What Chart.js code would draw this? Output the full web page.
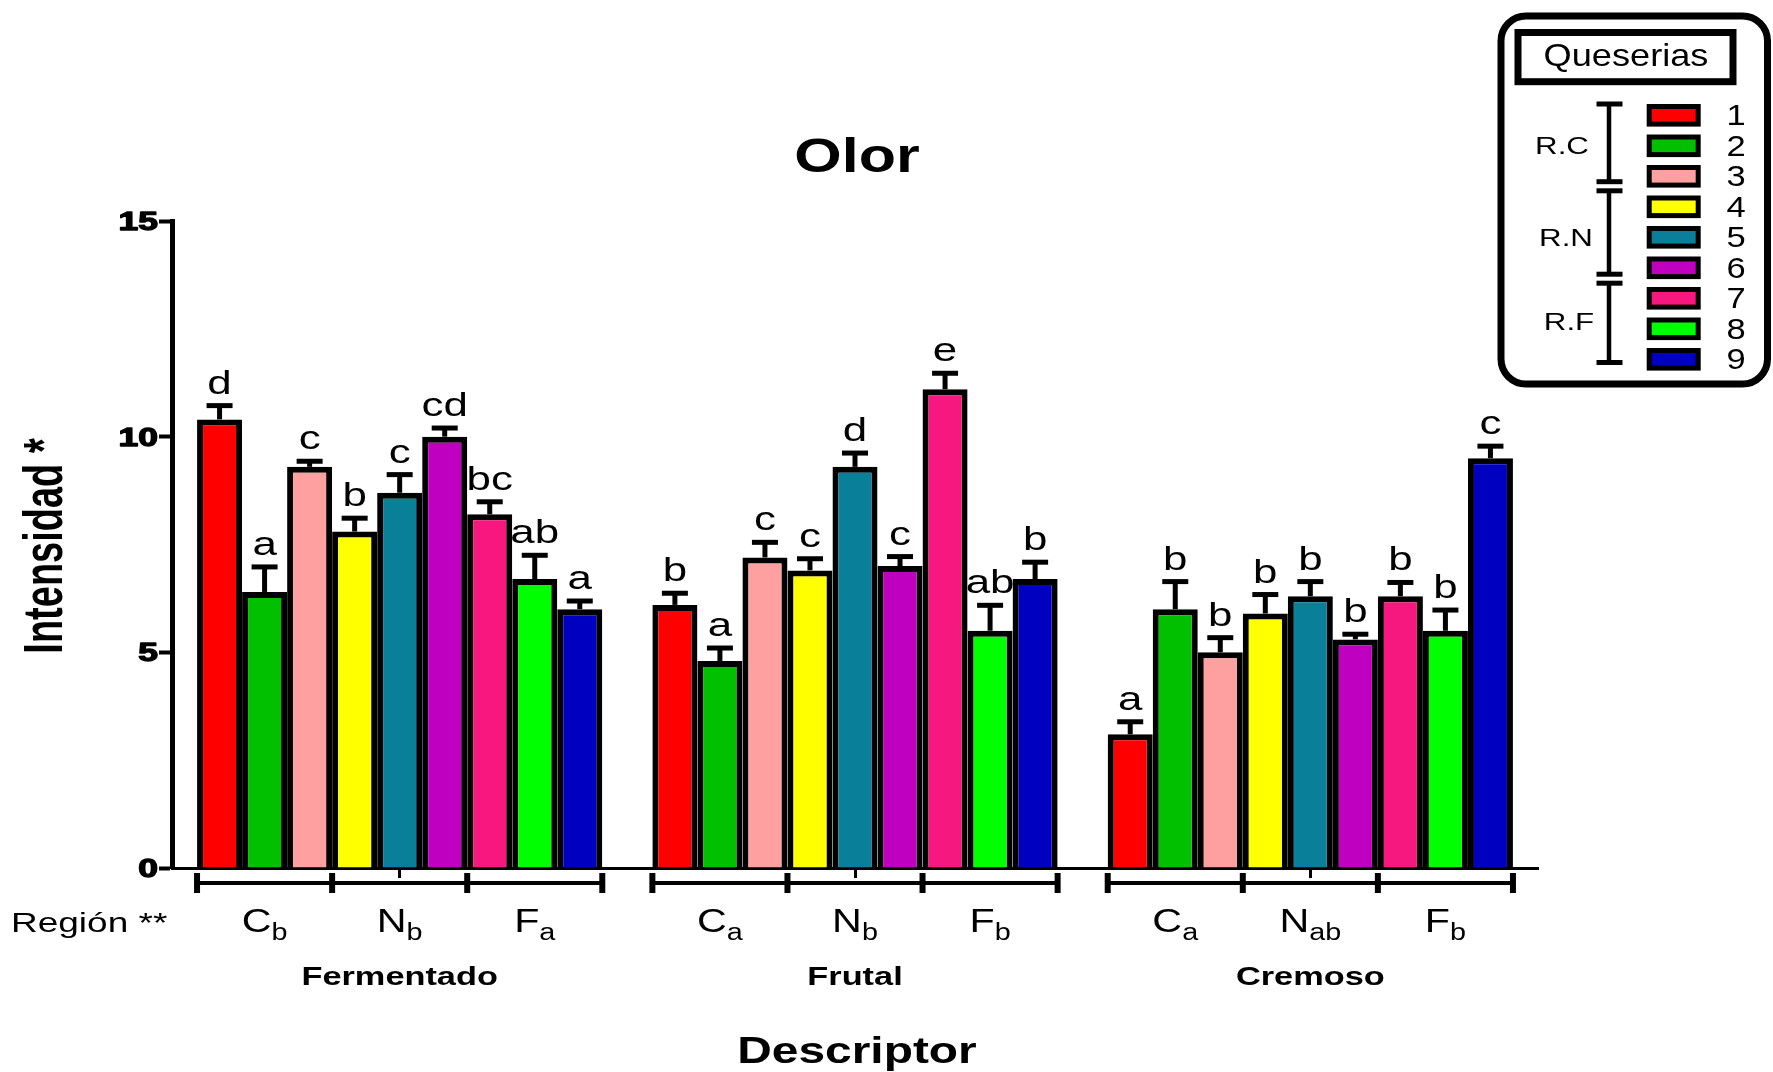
<!DOCTYPE html>
<html>
<head>
<meta charset="utf-8">
<title>Olor</title>
<script src="https://cdn.jsdelivr.net/npm/chart.js@4.4.1/dist/chart.umd.min.js"></script>
<style>
  html, body { margin: 0; padding: 0; background: #fff; }
  #wrap { width: 1773px; height: 1072px; position: relative; }
</style>
</head>
<body>
<div id="wrap"><canvas id="c"></canvas></div>
<script>
// Descriptores de olor y queserías
const descriptores = ['Fermentado', 'Frutal', 'Cremoso'];
const queserias = ['1', '2', '3', '4', '5', '6', '7', '8', '9'];

// Intensidad media por quesería (1..9) para cada descriptor
const fermentado = [10.4, 6.4, 9.3, 7.8, 8.7, 10.0, 8.2, 6.7, 6.0];
const frutal     = [6.1, 4.8, 7.2, 6.9, 9.3, 7.0, 11.1, 5.5, 6.7];
const cremoso    = [3.1, 6.0, 5.0, 5.9, 6.3, 5.3, 6.3, 5.5, 9.5];

// Error estándar (solo se dibuja hacia arriba)
const fermentadoError = [0.32, 0.58, 0.13, 0.31, 0.42, 0.20, 0.29, 0.55, 0.19];
const frutalError     = [0.27, 0.30, 0.35, 0.27, 0.32, 0.22, 0.37, 0.59, 0.39];
const cremosoError    = [0.29, 0.64, 0.34, 0.44, 0.34, 0.12, 0.32, 0.48, 0.28];

// Letras de significación sobre cada barra
const letrasFermentado = ['d', 'a', 'c', 'b', 'c', 'cd', 'bc', 'ab', 'a'];
const letrasFrutal     = ['b', 'a', 'c', 'c', 'd', 'c', 'e', 'ab', 'b'];
const letrasCremoso    = ['a', 'b', 'b', 'b', 'b', 'b', 'b', 'b', 'c'];

// Región de origen (C, N, F) con su letra de significación
const regionFermentado = [['C', 'b'], ['N', 'b'], ['F', 'a']];
const regionFrutal     = [['C', 'a'], ['N', 'b'], ['F', 'b']];
const regionCremoso    = [['C', 'a'], ['N', 'ab'], ['F', 'b']];
const regiones = ['R.C', 'R.N', 'R.F'];

// Ticks del eje Y
const ticksY = [0, 5, 10, 15];

const colores = ['#ff0000', '#00c000', '#ffa0a0', '#ffff00', '#0a7f99',
                 '#c000c0', '#f7187f', '#00ff00', '#0000c0'];

const medias = [fermentado, frutal, cremoso];
const errores = [fermentadoError, frutalError, cremosoError];
const letras = [letrasFermentado, letrasFrutal, letrasCremoso];
const etiquetasRegion = [regionFermentado, regionFrutal, regionCremoso];

const datasets = queserias.map((q, i) => ({
  label: q,
  data: medias.map(m => m[i]),
  errores: errores.map(e => e[i]),
  letras: letras.map(l => l[i]),
  backgroundColor: colores[i],
  borderColor: '#000',
  borderWidth: 6,
  borderSkipped: 'start',
  barPercentage: 1,
  categoryPercentage: 0.89
}));

const FAM = '"Liberation Sans", Arial, Helvetica, sans-serif';

// Texto con estiramiento horizontal/vertical opcional
function texto(ctx, str, x, y, o) {
  ctx.save();
  ctx.translate(x, y);
  if (o.rot) ctx.rotate(o.rot);
  ctx.scale(o.sx || 1, o.sy || 1);
  ctx.font = (o.bold ? 'bold ' : '') + o.size + 'px ' + FAM;
  ctx.textAlign = o.align || 'center';
  ctx.textBaseline = 'alphabetic';
  ctx.fillStyle = '#000';
  ctx.fillText(str, 0, 0);
  if (o.stroke) {
    ctx.strokeStyle = '#000';
    ctx.lineWidth = o.stroke;
    ctx.lineJoin = 'round';
    ctx.strokeText(str, 0, 0);
  }
  ctx.restore();
}

function ancho(ctx, str, size, bold, sx) {
  ctx.save();
  ctx.font = (bold ? 'bold ' : '') + size + 'px ' + FAM;
  const w = ctx.measureText(str).width * (sx || 1);
  ctx.restore();
  return w;
}

// Letra con subíndice, centrada en x
function conSubindice(ctx, main, sub, x, y) {
  const sx = 1.25;
  const w1 = ancho(ctx, main, 33, false, sx);
  const w2 = ancho(ctx, sub, 23, false, sx);
  const x0 = x - (w1 + w2) / 2;
  texto(ctx, main, x0, y, { size: 33, sx, align: 'left' });
  texto(ctx, sub, x0 + w1, y + 8, { size: 23, sx, align: 'left' });
}

function linea(ctx, x1, y1, x2, y2, lw) {
  ctx.save();
  ctx.strokeStyle = '#000';
  ctx.lineWidth = lw;
  ctx.lineCap = 'butt';
  ctx.beginPath();
  ctx.moveTo(x1, y1);
  ctx.lineTo(x2, y2);
  ctx.stroke();
  ctx.restore();
}

const decoracion = {
  id: 'decoracion',
  afterDatasetsDraw(chart) {
    const { ctx } = chart;
    const y = chart.scales.y;
    chart.data.datasets.forEach((ds, d) => {
      const meta = chart.getDatasetMeta(d);
      meta.data.forEach((bar, i) => {
        const top = y.getPixelForValue(ds.data[i]);
        const capY = y.getPixelForValue(ds.data[i] + ds.errores[i]);
        linea(ctx, bar.x, top, bar.x, capY, 5);
        linea(ctx, bar.x - 13, capY, bar.x + 13, capY, 5);
        texto(ctx, ds.letras[i], bar.x, capY - 12, { size: 33, sx: 1.33 });
      });
    });
  },
  afterDraw(chart) {
    const { ctx, chartArea } = chart;
    const y = chart.scales.y;
    const x = chart.scales.x;
    const cx = (chartArea.left + chartArea.right) / 2;

    // Título
    texto(ctx, 'Olor', cx + 2, 172, { size: 48, bold: true, sx: 1.27 });

    // Etiquetas del eje Y
    y.ticks.forEach(t => {
      texto(ctx, String(t.value), 158, y.getPixelForValue(t.value) + 9,
        { size: 25, bold: true, sx: 1.42, align: 'right', stroke: 1.3 });
    });
    texto(ctx, 'Intensidad *', 62, 546, { size: 38, bold: true, rot: -Math.PI / 2, sy: 1.455 });

    // Corchetes de región y etiquetas por descriptor
    const metas = chart.data.datasets.map((_, d) => chart.getDatasetMeta(d));
    descriptores.forEach((nombre, i) => {
      const w = metas[0].data[i].width;
      const limites = [0, 3, 6, 9].map(k => k < 9
        ? metas[k].data[i].x - w / 2
        : metas[8].data[i].x + w / 2);
      linea(ctx, limites[0], 883, limites[3], 883, 4);
      limites.forEach(b => linea(ctx, b, 873, b, 893, 6));
      etiquetasRegion[i].forEach((r, j) => {
        conSubindice(ctx, r[0], r[1], (limites[j] + limites[j + 1]) / 2, 932);
      });
      texto(ctx, nombre, x.getPixelForValue(i), 985, { size: 26, bold: true, sx: 1.32 });
    });
    texto(ctx, 'Región **', 11, 932, { size: 27, sx: 1.37, align: 'left' });
    texto(ctx, 'Descriptor', cx + 2, 1063, { size: 36, bold: true, sx: 1.33 });

    // Leyenda de queserías
    ctx.save();
    ctx.strokeStyle = '#000';
    ctx.lineWidth = 7;
    ctx.beginPath();
    ctx.roundRect(1501, 16, 1767.5 - 1501, 384 - 16, 25);
    ctx.stroke();
    ctx.strokeRect(1518, 32.5, 1733 - 1518, 81.7 - 32.5);
    ctx.restore();
    texto(ctx, 'Queserias', 1626, 66, { size: 32, sx: 1.13 });

    chart.data.datasets.forEach((ds, d) => {
      const cy = 115.3 + d * 30.5;
      ctx.save();
      ctx.fillStyle = ds.backgroundColor;
      ctx.fillRect(1649.2, cy - 8.8, 49, 17.6);
      ctx.strokeStyle = '#000';
      ctx.lineWidth = 5;
      ctx.strokeRect(1649.2, cy - 8.8, 49, 17.6);
      ctx.restore();
      texto(ctx, ds.label, 1736, cy + 10, { size: 30, sx: 1.15 });
    });

    // Agrupación de queserías por región
    const tramos = [[104, 181.7], [190.8, 274.2], [283.2, 362.5]];
    tramos.forEach(([a, b]) => {
      linea(ctx, 1609, a, 1609, b, 4.5);
      linea(ctx, 1596.5, a, 1622.5, a, 5);
      linea(ctx, 1596.5, b, 1622.5, b, 5);
    });
    const posR = [[1562, 154], [1566, 246], [1569, 330]];
    regiones.forEach((r, j) => texto(ctx, r, posR[j][0], posR[j][1], { size: 23.5, sx: 1.33 }));
  }
};

new Chart(document.getElementById('c'), {
  type: 'bar',
  data: { labels: descriptores, datasets },
  plugins: [decoracion],
  options: {
    responsive: true,
    maintainAspectRatio: false,
    animation: false,
    layout: { padding: { top: 221, right: 235, bottom: 0, left: 0 } },
    plugins: { legend: { display: false }, tooltip: { enabled: false }, title: { display: false } },
    scales: {
      x: {
        offset: true,
        afterFit(scale) { scale.height = 204; },
        ticks: { display: false },
        grid: { display: true, offset: false, drawOnChartArea: false, drawTicks: true,
                tickLength: 10, tickWidth: 3, tickColor: '#000' },
        border: { display: true, color: '#000', width: 3 }
      },
      y: {
        min: 0,
        max: 15,
        afterBuildTicks(scale) { scale.ticks = ticksY.map(v => ({ value: v })); },
        afterFit(scale) { scale.width = 172; },
        ticks: { display: false },
        grid: { display: true, drawOnChartArea: false, drawTicks: true,
                tickLength: 13, tickWidth: 4, tickColor: '#000' },
        border: { display: true, color: '#000', width: 5 }
      }
    }
  }
});
</script>
</body>
</html>
